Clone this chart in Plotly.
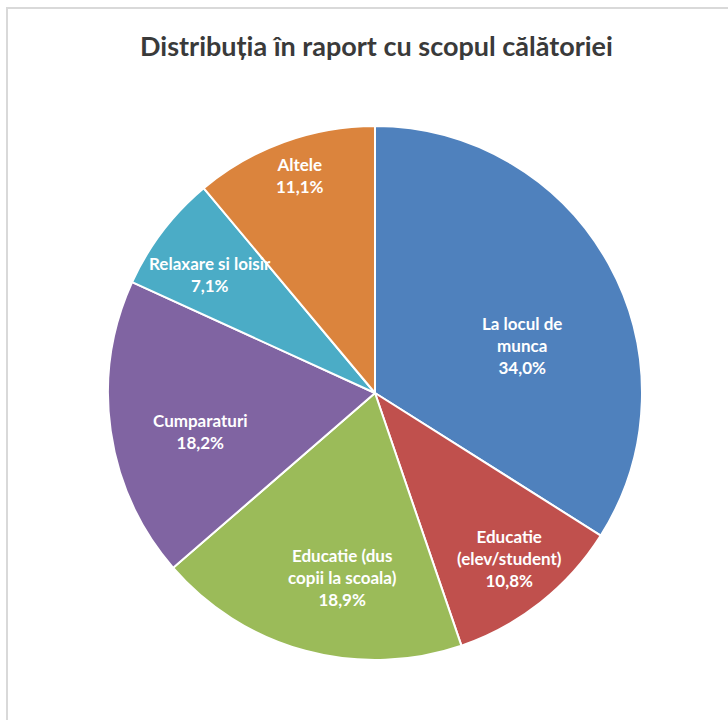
import math
import plotly.graph_objects as go

# Travel purpose shares (%)
categories = [
    "La locul de<br>munca",
    "Educatie<br>(elev/student)",
    "Educatie (dus<br>copii la scoala)",
    "Cumparaturi",
    "Relaxare si loisir",
    "Altele",
]
shares = [34.0, 10.8, 18.9, 18.2, 7.1, 11.1]

colors = ["#4F81BD", "#C0504D", "#9BBB59", "#8064A2", "#4BACC6", "#DB843D"]

W, H = 728, 720
CX, CY, R = 375, 393, 267  # pie centre / radius in pixels (from top-left)

# Label placement: fraction of radius and angular nudge (deg) per slice
label_radius = [0.58, 0.80, 0.70, 0.67, 0.76, 0.86]
label_shift = [11.0, -0.8, -5.0, -4.1, -1.5, 0.9]

fig = go.Figure(
    go.Pie(
        labels=categories,
        values=shares,
        sort=False,
        direction="clockwise",
        rotation=0,
        marker=dict(colors=colors, line=dict(color="white", width=2)),
        textinfo="none",
        hoverinfo="label+value",
        showlegend=False,
        domain=dict(
            x=[(CX - R) / W, (CX + R) / W],
            y=[(H - CY - R) / H, (H - CY + R) / H],
        ),
    )
)

total = sum(shares)
annotations = []
cum = 0.0
for name, v, f, d in zip(categories, shares, label_radius, label_shift):
    mid = (cum + v / 2) / total * 360 + d
    cum += v
    th = math.radians(mid)
    px = CX + f * R * math.sin(th)
    py = CY - f * R * math.cos(th)
    txt = f"{name}<br>{v:.1f}%".replace(".", ",")
    annotations.append(
        dict(
            x=px / W, y=1 - py / H, xref="paper", yref="paper",
            text=txt, showarrow=False, xanchor="center", yanchor="middle",
            align="center",
            font=dict(family="Lato, Open Sans, sans-serif", size=17, color="white", weight="bold"),
        )
    )

annotations.append(
    dict(
        x=376 / W, y=1 - 45 / H, xref="paper", yref="paper",
        text="Distribuția în raport cu scopul călătoriei", showarrow=False,
        xanchor="center", yanchor="middle",
        font=dict(family="Lato, Open Sans, sans-serif", size=27, color="#3A3A3A", weight="bold"),
    )
)

fig.update_layout(
    width=W, height=H,
    margin=dict(l=0, r=0, t=0, b=0),
    paper_bgcolor="white",
    plot_bgcolor="white",
    annotations=annotations,
    shapes=[
        dict(type="rect", xref="paper", yref="paper",
             x0=7 / W, x1=1.05, y0=-0.05, y1=1 - 8 / H,
             line=dict(color="#D9D9D9", width=2), fillcolor="rgba(0,0,0,0)", layer="below"),
    ],
)

fig.write_html("out.html")
